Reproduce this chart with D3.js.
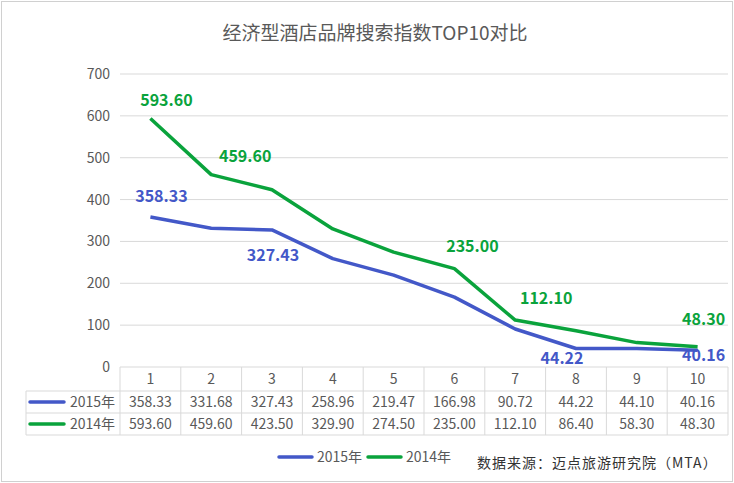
<!DOCTYPE html>
<html lang="zh">
<head>
<meta charset="UTF-8">
<title>经济型酒店品牌搜索指数TOP10对比</title>
<script src="https://cdnjs.cloudflare.com/ajax/libs/d3/7.8.5/d3.min.js"></script>
<style>
  body { margin: 0; background: #fff; }
  text { font-family: "Noto Sans CJK SC", "Noto Sans", sans-serif; }
  .axis path, .axis line { display: none; }
  .axis text { font-size: 14px; fill: #595959; }
</style>
</head>
<body>
<script>
const categories = ["1", "2", "3", "4", "5", "6", "7", "8", "9", "10"];
const seriesNames = ["2015年", "2014年"];
const values2015 = [358.33, 331.68, 327.43, 258.96, 219.47, 166.98, 90.72, 44.22, 44.10, 40.16];
const values2014 = [593.60, 459.60, 423.50, 329.90, 274.50, 235.00, 112.10, 86.40, 58.30, 48.30];
const yTicks = [0, 100, 200, 300, 400, 500, 600, 700];
// which points get a data label (index into categories)
const labeled2015 = [0, 2, 7, 9];
const labeled2014 = [0, 1, 5, 6, 9];

const width = 734, height = 483;
const colors = ["#4358C8", "#0AA33C"];
const plotLeft = 120, plotRight = 728, plotTop = 74, plotBottom = 367;

const svg = d3.select("body").append("svg")
    .attr("width", width)
    .attr("height", height);

svg.append("rect")
    .attr("x", 1.5).attr("y", 1.5)
    .attr("width", width - 3).attr("height", height - 3)
    .attr("fill", "#fff").attr("stroke", "#d0d0d0");

svg.append("text")
    .attr("x", 375).attr("y", 40)
    .attr("text-anchor", "middle")
    .attr("font-size", 19)
    .attr("fill", "#595959")
    .text("经济型酒店品牌搜索指数TOP10对比");

const x = d3.scaleBand().domain(categories).range([plotLeft, plotRight]);
const y = d3.scaleLinear().domain([0, 700]).range([plotBottom, plotTop]);

// gridlines
svg.append("g").selectAll("line")
    .data(yTicks.filter(d => d > 0))
    .enter().append("line")
    .attr("x1", plotLeft).attr("x2", plotRight)
    .attr("y1", d => y(d)).attr("y2", d => y(d))
    .attr("stroke", "#d9d9d9");

svg.append("g")
    .attr("class", "axis")
    .attr("transform", "translate(" + (plotLeft - 10) + ",0)")
    .call(d3.axisLeft(y).tickValues(yTicks).tickSize(0).tickPadding(0));

const line = d3.line()
    .x((d, i) => x(categories[i]) + x.bandwidth() / 2)
    .y(d => y(d));

[values2015, values2014].forEach(function(vals, k) {
    svg.append("path")
        .datum(vals)
        .attr("d", line)
        .attr("fill", "none")
        .attr("stroke", colors[k])
        .attr("stroke-width", 3.5)
        .attr("stroke-linejoin", "round");
});

// data labels, offsets from point (dx, dy)
const off2015 = { 0: [11, -15], 2: [1, 31], 7: [-14, 16], 9: [6, 11] };
const off2014 = { 0: [16, -13], 1: [34, -13], 5: [18, -17], 6: [31, -16], 9: [6, -22] };

function labels(vals, idx, off, color) {
    svg.append("g").selectAll("text")
        .data(idx)
        .enter().append("text")
        .attr("x", i => x(categories[i]) + x.bandwidth() / 2 + off[i][0])
        .attr("y", i => y(vals[i]) + off[i][1])
        .attr("text-anchor", "middle")
        .attr("font-size", 16)
        .attr("font-weight", "bold")
        .attr("fill", color)
        .text(i => vals[i].toFixed(2));
}
labels(values2014, labeled2014, off2014, colors[1]);
labels(values2015, labeled2015, off2015, colors[0]);

// data table
const rowH = [24, 22, 22];
const tableLeft = 26;
const rowTop = [plotBottom, plotBottom + rowH[0], plotBottom + rowH[0] + rowH[1]];
const tableBottom = rowTop[2] + rowH[2];
const tg = svg.append("g").attr("stroke", "#d9d9d9");

tg.append("line").attr("x1", plotLeft).attr("x2", plotRight).attr("y1", plotBottom).attr("y2", plotBottom);
[rowTop[1], rowTop[2], tableBottom].forEach(function(yy) {
    tg.append("line").attr("x1", tableLeft).attr("x2", plotRight).attr("y1", yy).attr("y2", yy);
});
tg.append("line").attr("x1", tableLeft).attr("x2", tableLeft).attr("y1", rowTop[1]).attr("y2", tableBottom);
tg.selectAll(".v")
    .data(categories.map(c => x(c)).concat([plotRight]))
    .enter().append("line")
    .attr("x1", d => d).attr("x2", d => d)
    .attr("y1", plotBottom).attr("y2", tableBottom);

const tt = svg.append("g")
    .attr("font-size", 14)
    .attr("fill", "#595959")
    .attr("text-anchor", "middle");

tt.selectAll(".cat")
    .data(categories)
    .enter().append("text")
    .attr("x", c => x(c) + x.bandwidth() / 2)
    .attr("y", rowTop[0] + 17)
    .text(c => c);

[values2015, values2014].forEach(function(vals, k) {
    const ry = rowTop[k + 1] + 16;
    tt.selectAll(".r" + k)
        .data(vals)
        .enter().append("text")
        .attr("x", (d, i) => x(categories[i]) + x.bandwidth() / 2)
        .attr("y", ry)
        .text(d => d.toFixed(2));
    svg.append("line")
        .attr("x1", 30).attr("x2", 64)
        .attr("y1", ry - 5).attr("y2", ry - 5)
        .attr("stroke", colors[k]).attr("stroke-width", 3.5)
        .attr("stroke-linecap", "round");
    svg.append("text")
        .attr("x", 70).attr("y", ry)
        .attr("font-size", 14).attr("fill", "#595959")
        .text(seriesNames[k]);
});

// legend
const legendX = [279, 368];
seriesNames.forEach(function(name, k) {
    svg.append("line")
        .attr("x1", legendX[k]).attr("x2", legendX[k] + 33)
        .attr("y1", 457).attr("y2", 457)
        .attr("stroke", colors[k]).attr("stroke-width", 3.5)
        .attr("stroke-linecap", "round");
    svg.append("text")
        .attr("x", legendX[k] + 38).attr("y", 462)
        .attr("font-size", 14).attr("fill", "#595959")
        .text(name);
});

svg.append("text")
    .attr("x", 477).attr("y", 468)
    .attr("font-size", 14).attr("fill", "#333")
    .attr("letter-spacing", 1)
    .text("数据来源：迈点旅游研究院（MTA）");
</script>
</body>
</html>
